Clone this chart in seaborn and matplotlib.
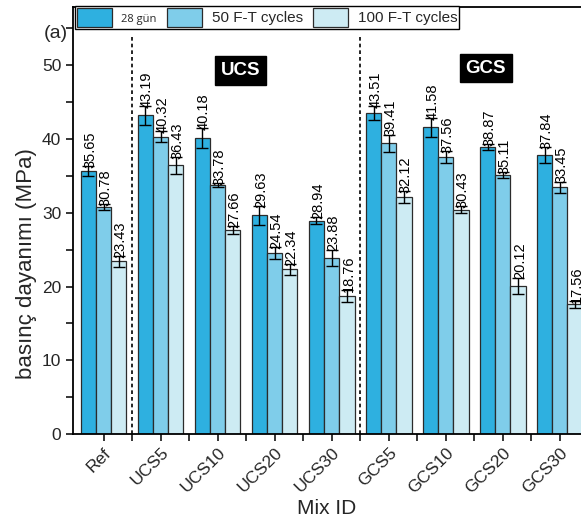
import numpy as np
import pandas as pd
import matplotlib
matplotlib.use("Agg")
import matplotlib.pyplot as plt
from matplotlib.ticker import MultipleLocator, FixedLocator
from matplotlib.container import BarContainer
import seaborn as sns

mixes = ["Ref", "UCS5", "UCS10", "UCS20", "UCS30", "GCS5", "GCS10", "GCS20", "GCS30"]
series = ["28 gün", "50 F-T cycles", "100 F-T cycles"]
v28 = [35.65, 43.19, 40.18, 29.63, 28.94, 43.51, 41.58, 38.87, 37.84]
v50 = [30.78, 40.32, 33.78, 24.54, 23.88, 39.41, 37.56, 35.11, 33.45]
v100 = [23.43, 36.43, 27.66, 22.34, 18.76, 32.12, 30.43, 20.12, 17.56]
e28 = [0.63, 1.25, 1.35, 1.23, 0.5, 0.9, 1.28, 0.4, 1.05]
e50 = [0.38, 0.74, 0.25, 0.76, 1.12, 1.19, 0.78, 0.38, 0.78]
e100 = [0.74, 1.17, 0.56, 0.72, 0.8, 0.78, 0.43, 1.1, 0.5]
colors = ["#2eb0e0", "#7fcdea", "#cdebf3"]

sns.set_style("ticks")
plt.rcParams["font.family"] = ["Liberation Sans", "DejaVu Sans"]

vals = [v28, v50, v100]
errs = [e28, e50, e100]
df = pd.DataFrame({
    "mix": np.tile(mixes, 3),
    "series": np.repeat(series, len(mixes)),
    "value": np.concatenate(vals),
})

fig = plt.figure(figsize=(5.81, 5.2), dpi=100)
ax = fig.add_axes([73 / 581, 86 / 520, 1 - 73 / 581, (434 - 7) / 520])

sns.barplot(data=df, x="mix", y="value", hue="series", order=mixes,
            hue_order=series, palette=colors, width=0.8, errorbar=None,
            edgecolor="#2b2b2b", linewidth=0.9, saturation=1, ax=ax, legend=True)

bar_conts = [c for c in ax.containers if isinstance(c, BarContainer)]
for ci, cont in enumerate(bar_conts):
    cx = [p.get_x() + p.get_width() / 2 for p in cont.patches]
    ax.errorbar(cx, vals[ci], yerr=errs[ci], fmt="none", ecolor="black",
                elinewidth=1.0, capsize=4, capthick=1.0, zorder=5)
    for x, v, e in zip(cx, vals[ci], errs[ci]):
        ax.text(x + 0.03, v + e - 0.25, f"{v:.2f}", rotation=90, ha="center",
                va="bottom", fontsize=10.5, color="black", zorder=6)

for xd in [0.5, 4.5]:
    ax.plot([xd, xd], [0, 53.8], ls=(0, (2.2, 1.8)), color="black", lw=1.2, zorder=4)

ax.text(2.4, 49.3, "UCS", color="white", fontsize=13.5, fontweight="bold",
        ha="center", va="center",
        bbox=dict(boxstyle="square,pad=0.3", facecolor="black", edgecolor="black"))
ax.text(6.7, 49.6, "GCS", color="white", fontsize=13.5, fontweight="bold",
        ha="center", va="center",
        bbox=dict(boxstyle="square,pad=0.3", facecolor="black", edgecolor="black"))

ax.set_xlim(-0.535, 8.37)
ax.set_ylim(0, 57.9)
ax.yaxis.set_major_locator(MultipleLocator(10))
ax.yaxis.set_minor_locator(MultipleLocator(5))
ax.xaxis.set_minor_locator(FixedLocator(np.arange(0.5, 9, 1.0)))
ax.tick_params(axis="both", which="both", direction="out", length=5, width=1.1,
               color="black")
ax.tick_params(axis="y", labelsize=12.5)
ax.tick_params(axis="x", labelsize=12.5, pad=3)
plt.setp(ax.get_xticklabels(), rotation=45, ha="right", rotation_mode="anchor")

ax.spines["right"].set_visible(False)
for s in ["left", "bottom", "top"]:
    ax.spines[s].set_linewidth(1.3)
    ax.spines[s].set_color("black")

ax.set_xlabel("Mix ID", fontsize=15)
ax.xaxis.set_label_coords(0.5, -0.153)
ax.set_ylabel("basınç dayanımı (MPa)", fontsize=16)
ax.yaxis.set_label_coords(-0.07, 0.40)

handles, labels = ax.get_legend_handles_labels()
leg = ax.legend(handles, labels, ncol=3, loc="upper left",
                bbox_to_anchor=(75 / 581, 1 - 6 / 520), bbox_transform=fig.transFigure,
                borderaxespad=0, fontsize=11, frameon=True, fancybox=False,
                handlelength=2.3, handleheight=1.55, handletextpad=0.6,
                columnspacing=0.7, borderpad=0.12)
leg.get_frame().set_edgecolor("black")
leg.get_frame().set_linewidth(1.0)
leg.get_frame().set_alpha(1)
leg.get_texts()[0].set_fontsize(8)
leg.get_texts()[0].set_family(["Open Sans", "DejaVu Sans"])

fig.text(68 / 581, 1 - 33 / 520, "(a)", ha="right", va="center", fontsize=14)

fig.savefig("out.png", dpi=100)
